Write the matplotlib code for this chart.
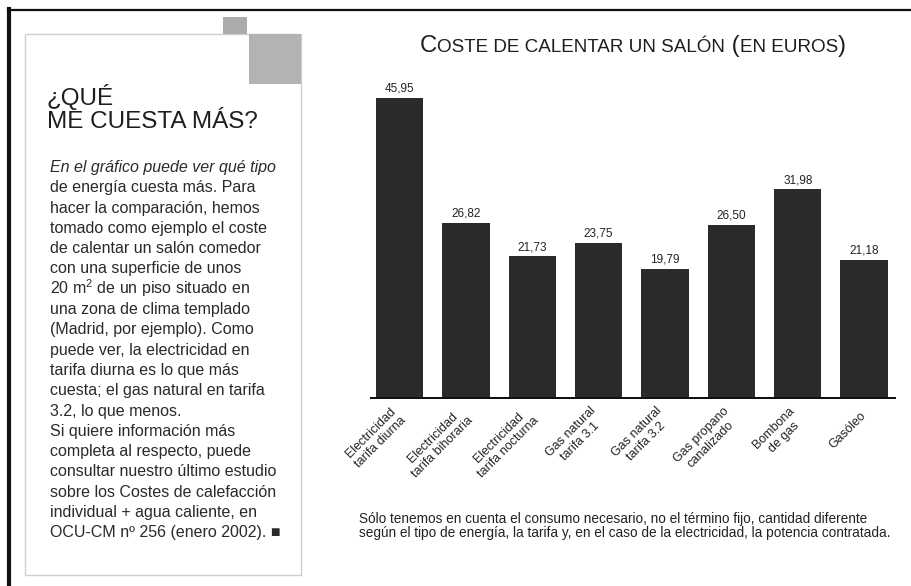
import matplotlib
matplotlib.use("Agg")
import matplotlib.pyplot as plt
from matplotlib.patches import Rectangle

plt.rcParams['font.family'] = ['Liberation Sans', 'DejaVu Sans']
plt.rcParams['mathtext.fontset'] = 'custom'
plt.rcParams['mathtext.rm'] = 'Liberation Sans'

# data
categories = ["Electricidad\ntarifa diurna", "Electricidad\ntarifa bihoraria",
              "Electricidad\ntarifa nocturna", "Gas natural\ntarifa 3.1",
              "Gas natural\ntarifa 3.2", "Gas propano\ncanalizado",
              "Bombona\nde gas", "Gasóleo"]
costs = [45.95, 26.82, 21.73, 23.75, 19.79, 26.50, 31.98, 21.18]
cost_labels = ["45,95", "26,82", "21,73", "23,75", "19,79", "26,50", "31,98", "21,18"]

heading = ["¿QUÉ", "ME CUESTA MÁS?"]
body = ["En el gráfico puede ver qué tipo",
        "de energía cuesta más. Para",
        "hacer la comparación, hemos",
        "tomado como ejemplo el coste",
        "de calentar un salón comedor",
        "con una superficie de unos",
        r"20 m$^{\mathregular{2}}$ de un piso situado en",
        "una zona de clima templado",
        "(Madrid, por ejemplo). Como",
        "puede ver, la electricidad en",
        "tarifa diurna es lo que más",
        "cuesta; el gas natural en tarifa",
        "3.2, lo que menos.",
        "Si quiere información más",
        "completa al respecto, puede",
        "consultar nuestro último estudio",
        "sobre los Costes de calefacción",
        "individual + agua caliente, en",
        "OCU-CM nº 256 (enero 2002). ■"]
note = ("Sólo tenemos en cuenta el consumo necesario, no el término fijo, cantidad diferente\n"
        "según el tipo de energía, la tarifa y, en el caso de la electricidad, la potencia contratada.")

W, H = 912, 586
fig = plt.figure(figsize=(W / 100, H / 100), dpi=100)


def fx(x):
    return x / W


def fy(y):
    return 1 - y / H


# frame and side panel
fig.add_artist(plt.Line2D([fx(8), fx(912)], [fy(10), fy(10)], color='#111111', lw=1.6))
fig.add_artist(plt.Line2D([fx(9.5), fx(9.5)], [fy(9), fy(586)], color='#111111', lw=3))
fig.add_artist(Rectangle((fx(25), fy(575)), fx(276), 541 / H, fill=False,
                         edgecolor='#cfcfcf', lw=1.0))
fig.add_artist(Rectangle((fx(223), fy(34)), fx(24), 17 / H, color='#ababab', lw=0))
fig.add_artist(Rectangle((fx(249), fy(84)), fx(52), 50 / H, color='#b3b3b3', lw=0))

fig.text(fx(47), fy(105), heading[0], fontsize=17.5, color='#1e1e1e', va='baseline')
fig.text(fx(47), fy(128), heading[1], fontsize=17.5, color='#1e1e1e', va='baseline')
for i, line in enumerate(body):
    style = 'italic' if i == 0 else 'normal'
    fig.text(fx(50), fy(172 + i * 20.3), line, fontsize=11.5, color='#2a2a2a',
             va='baseline', style=style)

# bar chart
ax = fig.add_axes([fx(370), fy(398.5), fx(526), 338.5 / H])
x = range(len(costs))
ax.bar(x, costs, width=0.715, color='#2a2a2a')
ax.axhline(0, color='#111111', lw=3.6, zorder=3)
ax.set_xlim(-0.444, 7.48)
ax.set_ylim(0, 338.5 / 6.54)
for xi, v, lab in zip(x, costs, cost_labels):
    ax.annotate(lab, (xi, v), xytext=(0, 4.5), textcoords='offset points',
                ha='center', va='baseline', fontsize=8.5, color='#222222')
ax.set_xticks(list(x))
ax.set_xticklabels(categories, rotation=45, ha='right', va='center',
                   rotation_mode='anchor', fontsize=9, color='#222222',
                   linespacing=1.15, multialignment='center')
ax.tick_params(axis='x', length=0, pad=11)
ax.set_yticks([])
for s in ax.spines.values():
    s.set_visible(False)

fig.text(fx(359), fy(526.5), note, fontsize=9.8, color='#222222', va='center',
         linespacing=1.0)

# small caps title, drawn piece by piece
renderer = fig.canvas.get_renderer()
pieces = [("C", 17.2), ("OSTE DE CALENTAR UN SALÓN", 13.6), (" (", 17.2),
          ("EN EUROS", 13.6), (")", 17.2)]
arts = []
pos = 0
for txt, size in pieces:
    t = fig.text(0, fy(52), txt, fontsize=size, color='#1e1e1e', va='baseline')
    w = t.get_window_extent(renderer).width
    arts.append((t, pos))
    pos += w
start = 633 - pos / 2
for t, off in arts:
    t.set_x(fx(start + off))

fig.savefig("out.png", dpi=100)
